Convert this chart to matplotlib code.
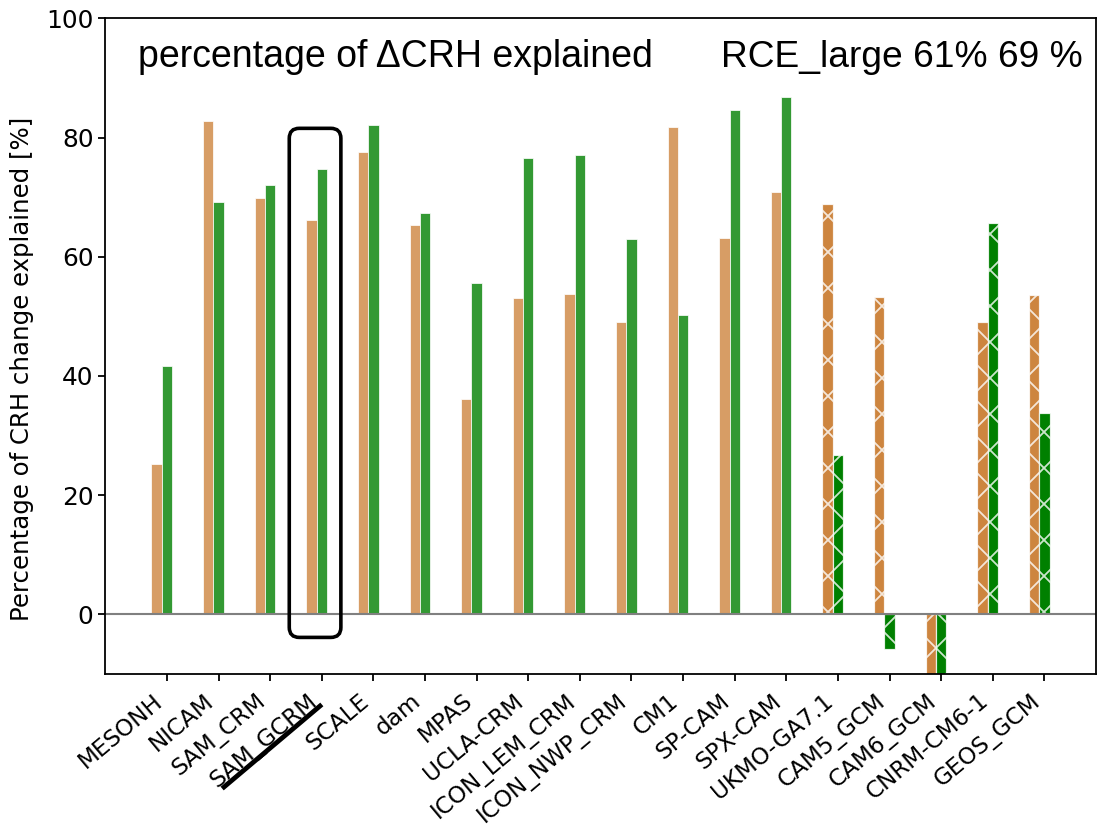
import matplotlib
matplotlib.use("Agg")
import matplotlib.pyplot as plt
from matplotlib.patches import FancyBboxPatch
from matplotlib.lines import Line2D
import numpy as np

models = ["MESONH", "NICAM", "SAM_CRM", "SAM_GCRM", "SCALE", "dam", "MPAS",
          "UCLA-CRM", "ICON_LEM_CRM", "ICON_NWP_CRM", "CM1", "SP-CAM",
          "SPX-CAM", "UKMO-GA7.1", "CAM5_GCM", "CAM6_GCM", "CNRM-CM6-1",
          "GEOS_GCM"]
is_gcm = [False] * 13 + [True] * 5

pct_first = [25.2, 82.8, 69.9, 66.2, 77.6, 65.3, 36.1, 53.1, 53.7, 49.0,
             81.8, 63.1, 70.8, 68.8, 53.2, -18.0, 49.0, 53.5]
pct_second = [41.7, 69.2, 72.0, 74.7, 82.1, 67.4, 55.6, 76.5, 77.0, 62.9,
              50.3, 84.6, 86.8, 26.7, -5.8, -16.0, 65.7, 33.8]

title_left = "percentage of \u0394CRH explained"
title_right = "RCE_large 61% 69 %"
ylabel = "Percentage of CRH change explained [%]"
yticks = [0, 20, 40, 60, 80, 100]

DPI = 216
W, H = 1097, 826
plt.rcParams["hatch.linewidth"] = 0.6

fig = plt.figure(figsize=(W / DPI, H / DPI), dpi=DPI)
ax = fig.add_axes([105 / W, 1 - 674 / H, (1096 - 105) / W, (674 - 18.3) / H])

x = np.arange(len(models))
width = 0.2
for i in range(len(models)):
    if is_gcm[i]:
        ax.bar(x[i] - width, pct_first[i], width, color="peru", hatch="xx",
               edgecolor=(1, 1, 1, 0.8), linewidth=0.4)
        ax.bar(x[i], pct_second[i], width, color="green", hatch="xx",
               edgecolor=(1, 1, 1, 0.8), linewidth=0.4)
    else:
        ax.bar(x[i] - width, pct_first[i], width, color="peru", alpha=0.8,
               edgecolor="white", linewidth=0.3)
        ax.bar(x[i], pct_second[i], width, color="green", alpha=0.8,
               edgecolor="white", linewidth=0.3)

ax.axhline(0, color="gray", lw=0.7)
ax.set_xlim(-1.2, 18)
ax.set_ylim(-10, 100)
ax.set_yticks(yticks)
ax.set_xticks(x)
ax.set_xticklabels(models, rotation=40, ha="right")
ax.tick_params(length=2.3, width=0.6)
ax.tick_params(axis="y", labelsize=8.3, pad=1.5)
ax.tick_params(axis="x", labelsize=7.7, pad=2.8)
for sp in ax.spines.values():
    sp.set_linewidth(0.6)
ax.set_ylabel(ylabel, fontsize=8.15)
ax.yaxis.set_label_coords((34 - 105) / 991, (674 - 369) / (674 - 18.3))

# rounded frame around the SAM_GCRM pair
fig.canvas.draw()
px = ax.transData.transform([(0, 0), (1, 1)])
ux = 1.0 / (px[1, 0] - px[0, 0])
uy = 1.0 / (px[1, 1] - px[0, 1])
box = FancyBboxPatch((2.37, -3.86), 1.0, 85.4,
                     boxstyle=f"round,pad=0,rounding_size={10 * ux}",
                     mutation_aspect=uy / ux, fill=False, edgecolor="black",
                     linewidth=1.2, zorder=5)
ax.add_patch(box)

# underline for the SAM_GCRM label
fig.add_artist(Line2D([224 / W, 320 / W], [1 - 787 / H, 1 - 706 / H],
                      transform=fig.transFigure, color="black", lw=1.6))

fig.text(138 / W, 1 - 67 / H, title_left, fontsize=12.5,
         family="Liberation Sans", ha="left", va="baseline")
fig.text(1083 / W, 1 - 67 / H, title_right, fontsize=12.4,
         family="Liberation Sans", ha="right", va="baseline")

fig.savefig("out.png", dpi=DPI)
